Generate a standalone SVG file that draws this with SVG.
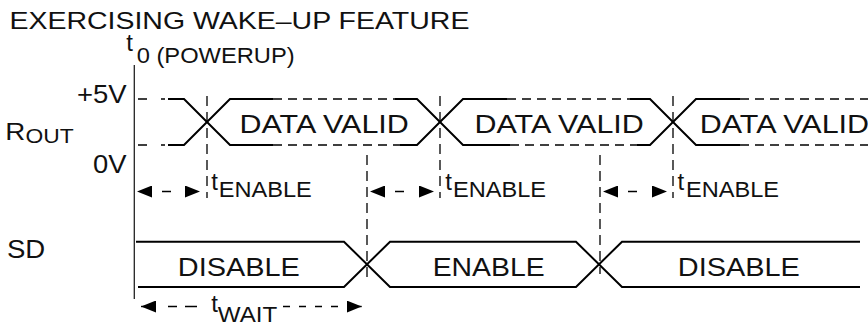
<svg xmlns="http://www.w3.org/2000/svg" width="868" height="322" viewBox="0 0 868 322">
<defs>
<marker id="ah" viewBox="0 0 15 12" refX="15" refY="6" markerWidth="15" markerHeight="12" markerUnits="userSpaceOnUse" orient="auto-start-reverse">
<path d="M0,0 L15,6 L0,12 z" fill="#000"/>
</marker>
</defs>
<style>
text{font-family:"Liberation Sans",Arial,Helvetica,sans-serif;fill:#111}
.sig{fill:none;stroke:#000;stroke-width:2;stroke-linejoin:miter}
.rail{fill:none;stroke:#000;stroke-width:1.6;stroke-dasharray:9 6}
.tick{fill:none;stroke:#000;stroke-width:1.6}
.vdash{fill:none;stroke:#000;stroke-width:1.3;stroke-dasharray:10 6}
.axis{fill:none;stroke:#222;stroke-width:1.3}
.arr{fill:none;stroke:#000;stroke-width:1.4;stroke-dasharray:0 25 9 40}
.adash{fill:none;stroke:#000;stroke-width:1.4}
</style>
<rect width="868" height="322" fill="#fff"/>

<g id="title">
<text x="9.4" y="29.3" font-size="24" textLength="460" lengthAdjust="spacingAndGlyphs">EXERCISING WAKE–UP FEATURE</text>
</g>

<g id="t0-label">
<text x="126.3" y="50.5" font-size="24">t</text>
<text x="136.7" y="62.5" font-size="21.5" textLength="158" lengthAdjust="spacingAndGlyphs">0 (POWERUP)</text>
</g>

<g id="axis">
<path class="axis" d="M134.3,65 V299"/>
</g>

<g id="rout-labels">
<text x="5.3" y="140" font-size="24" textLength="20" lengthAdjust="spacingAndGlyphs">R</text>
<text x="25.6" y="143.3" font-size="20" textLength="48.2" lengthAdjust="spacingAndGlyphs">OUT</text>
<text x="76.9" y="102.7" font-size="25" textLength="49.7" lengthAdjust="spacingAndGlyphs">+5V</text>
<text x="93.1" y="172.7" font-size="25" textLength="33.5" lengthAdjust="spacingAndGlyphs">0V</text>
</g>

<g id="rout">
<path class="tick" d="M138,99 H147 M161,99 H165 M138,145 H147 M161,145 H165"/>
<path class="sig" d="M168,99 H184 L230,145 H273"/>
<path class="sig" d="M168,145 H184 L230,99 H273"/>
<path class="sig" d="M395,99 H417 L463,145 H510"/>
<path class="sig" d="M400,145 H417 L463,99 H507"/>
<path class="sig" d="M630,99 H650 L696,145 H740"/>
<path class="sig" d="M637,145 H650 L696,99 H740"/>
<path class="rail" d="M273,99 H395 M507,99 H630 M740,99 H868"/>
<path class="rail" d="M273,145 H400 M510,145 H637 M740,145 H868"/>
<text x="239.5" y="133" font-size="26" textLength="169.3" lengthAdjust="spacingAndGlyphs">DATA VALID</text>
<text x="474.5" y="133" font-size="26" textLength="169.3" lengthAdjust="spacingAndGlyphs">DATA VALID</text>
<text x="699.8" y="133" font-size="26" textLength="169.3" lengthAdjust="spacingAndGlyphs">DATA VALID</text>
</g>

<g id="sd-label">
<text x="6.9" y="258.3" font-size="25.5" textLength="38.3" lengthAdjust="spacingAndGlyphs">SD</text>
</g>

<g id="sd">
<path class="sig" d="M136,241.7 H344 L390,287 H576 L622,241.7 H860"/>
<path class="sig" d="M138,287 H344 L390,241.7 H576 L622,287 H860"/>
<text x="177.8" y="276" font-size="26" textLength="122" lengthAdjust="spacingAndGlyphs">DISABLE</text>
<text x="432.7" y="276" font-size="26" textLength="112" lengthAdjust="spacingAndGlyphs">ENABLE</text>
<text x="677.8" y="276" font-size="26" textLength="122" lengthAdjust="spacingAndGlyphs">DISABLE</text>
</g>

<g id="connectors">
<path class="vdash" d="M207,96 V198"/>
<path class="vdash" d="M440,96 V198"/>
<path class="vdash" d="M673,96 V198"/>
<path class="vdash" d="M367,155 V282"/>
<path class="vdash" d="M600,155 V274"/>
<line class="arr" x1="137" y1="191.5" x2="200" y2="191.5" marker-start="url(#ah)" marker-end="url(#ah)"/>
<line class="arr" x1="370" y1="191.5" x2="434" y2="191.5" marker-start="url(#ah)" marker-end="url(#ah)"/>
<line class="arr" x1="603" y1="191.5" x2="667" y2="191.5" marker-start="url(#ah)" marker-end="url(#ah)"/>
<line class="adash" x1="141" y1="306.5" x2="155" y2="306.5" marker-start="url(#ah)"/>
<line class="adash" x1="347" y1="306.5" x2="361.7" y2="306.5" marker-end="url(#ah)"/>
<path class="adash" d="M168,306.5 H177 M185,306.5 H197"/>
<path class="adash" d="M283,306.5 H290 M299,306.5 H306 M315,306.5 H322 M331,306.5 H338"/>
</g>

<g id="timing-labels">
<text x="211.3" y="189.5" font-size="24">t</text>
<text x="218.8" y="197" font-size="22" textLength="93" lengthAdjust="spacingAndGlyphs">ENABLE</text>
<text x="445.3" y="190" font-size="24">t</text>
<text x="453.1" y="197" font-size="22" textLength="93" lengthAdjust="spacingAndGlyphs">ENABLE</text>
<text x="677.6" y="190" font-size="24">t</text>
<text x="686.1" y="197" font-size="22" textLength="93" lengthAdjust="spacingAndGlyphs">ENABLE</text>
<text x="211.3" y="311.7" font-size="24">t</text>
<text x="217.8" y="322.3" font-size="22" textLength="59.4" lengthAdjust="spacingAndGlyphs">WAIT</text>
</g>
</svg>
